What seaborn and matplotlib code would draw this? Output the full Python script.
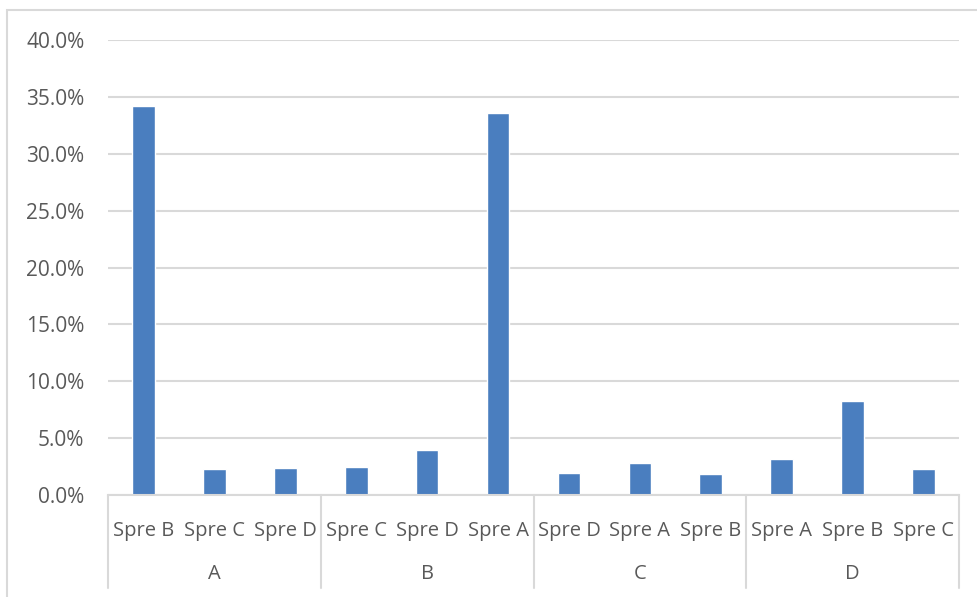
import matplotlib
matplotlib.use("Agg")
import matplotlib.pyplot as plt
import seaborn as sns
import pandas as pd
from matplotlib.patches import Rectangle
from matplotlib.ticker import FuncFormatter, MultipleLocator

groups = ["A", "A", "A", "B", "B", "B", "C", "C", "C", "D", "D", "D"]
subs = ["Spre B", "Spre C", "Spre D",
        "Spre C", "Spre D", "Spre A",
        "Spre D", "Spre A", "Spre B",
        "Spre A", "Spre B", "Spre C"]
values = [34.2, 2.3, 2.4,
          2.5, 4.0, 33.6,
          1.95, 2.85, 1.85,
          3.2, 8.3, 2.3]
group_names = ["A", "B", "C", "D"]

sns.set_style("white")
plt.rcParams['font.family'] = ['Open Sans', 'DejaVu Sans']
TXT = "#595959"
GRID = "#d9d9d9"

df = pd.DataFrame({"group": groups, "sub": subs, "value": values})
df["key"] = df["group"] + "|" + df["sub"]

W, H = 977, 597
fig = plt.figure(figsize=(W / 100, H / 100), dpi=100)
# outer chart border
fig.patches.append(Rectangle((7 / W, -0.05), 1.0, 1.05 - 10 / H, transform=fig.transFigure,
                             fill=False, edgecolor=GRID, linewidth=1.5, zorder=0))

left, right, top, bottom = 108, 959, 40, 495
ax = fig.add_axes([left / W, 1 - bottom / H, (right - left) / W, (bottom - top) / H])

sns.barplot(data=df, x="key", y="value", order=list(df["key"]), color="#4a7ebf",
            width=0.32, saturation=1, ax=ax)

ax.set_xlim(-0.5, len(values) - 0.5)
ax.set_ylim(0, 40)
ax.yaxis.set_major_locator(MultipleLocator(5))
ax.yaxis.set_major_formatter(FuncFormatter(lambda v, p: f"{v:.1f}%"))
ax.grid(axis="y", color=GRID, linewidth=1.5)
ax.set_axisbelow(True)
for s in ["top", "right", "left"]:
    ax.spines[s].set_visible(False)
ax.spines["bottom"].set_color(GRID)
ax.spines["bottom"].set_linewidth(1.5)
ax.set_xlabel("")
ax.set_ylabel("")
ax.set_xticks(range(len(subs)))
ax.set_xticklabels(subs)
ax.tick_params(axis="x", length=0, pad=19, labelsize=14.5, labelcolor=TXT)
ax.tick_params(axis="y", length=0, pad=17, labelsize=15, labelcolor=TXT)

ah = bottom - top
trans = ax.get_xaxis_transform()
for xb in [-0.5, 2.5, 5.5, 8.5, 11.5]:
    ax.plot([xb, xb], [0, -93 / ah], transform=trans, color=GRID, lw=1.5, clip_on=False)
for i, g in enumerate(group_names):
    ax.text(3 * i + 1, -79 / ah, g, transform=trans, ha="center", va="center",
            fontsize=14.5, color=TXT)

fig.savefig("out.png", dpi=100, facecolor="white")
